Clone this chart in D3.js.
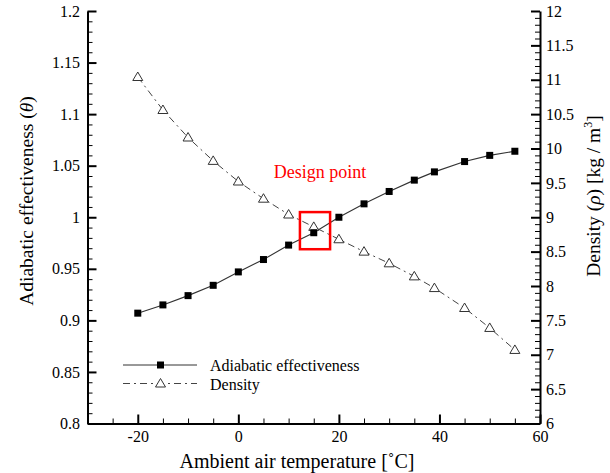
<!DOCTYPE html>
<html>
<head>
<meta charset="utf-8">
<script src="https://cdn.jsdelivr.net/npm/d3@7"></script>
<style>
  body { margin: 0; background: #fff; }
  svg { display: block; }
  svg text { font-family: "Liberation Serif", "Times New Roman", Times, Tinos, "DejaVu Serif", serif !important; fill: #000; }
</style>
</head>
<body>
<svg id="chart" width="610" height="473"></svg>
<script>
// Ambient temperature sweep [°C]
const temperature = [-20, -15, -10, -5, 0, 5, 10, 15, 20, 25, 30, 35, 39, 45, 50, 55];
// Adiabatic effectiveness (left axis)
const effectiveness = [0.907, 0.915, 0.924, 0.934, 0.947, 0.959, 0.973, 0.985, 1.000, 1.013, 1.025, 1.036, 1.044, 1.054, 1.060, 1.064];
// Density [kg/m3] (right axis)
const density = [11.04, 10.56, 10.16, 9.82, 9.52, 9.27, 9.04, 8.86, 8.68, 8.50, 8.33, 8.14, 7.97, 7.68, 7.39, 7.07];

const xMajor = [-20, 0, 20, 40, 60];
const xMinor = [-25, -15, -10, -5, 5, 10, 15, 25, 30, 35, 45, 50, 55];
const leftMajor = [0.8, 0.85, 0.9, 0.95, 1, 1.05, 1.1, 1.15, 1.2];
const leftLabels = ["0.8", "0.85", "0.9", "0.95", "1", "1.05", "1.1", "1.15", "1.2"];
const rightMajor = [6, 6.5, 7, 7.5, 8, 8.5, 9, 9.5, 10, 10.5, 11, 11.5, 12];
const rightLabels = ["6", "6.5", "7", "7.5", "8", "8.5", "9", "9.5", "10", "10.5", "11", "11.5", "12"];

// Design point marker: temperature range and effectiveness range of the highlight box
const designLabel = "Design point";
const designBoxT = [12.25, 18.25];
const designBoxE = [0.969, 1.005];

const svg = d3.select("#chart");
const plot = { left: 87.5, right: 540, top: 11, bottom: 423.5 };

const x = d3.scaleLinear().domain([-30, 60]).range([plot.left, plot.right]);
const yL = d3.scaleLinear().domain([0.8, 1.2]).range([plot.bottom, plot.top]);
const yR = d3.scaleLinear().domain([6, 12]).range([plot.bottom, plot.top]);

const minorOf = (lo, hi, step, majors) => d3.range(Math.round((hi - lo) / step) + 1)
  .map(i => +(lo + i * step).toFixed(4))
  .filter(v => !majors.some(m => Math.abs(m - v) < 1e-6));
const leftMinor = minorOf(0.8, 1.2, 0.01, leftMajor);
const rightMinor = minorOf(6, 12, 0.1, rightMajor);

function styleAxis(g, major) {
  g.attr("font-family", null);
  g.select(".domain").attr("stroke", "#000").attr("stroke-width", 2);
  g.selectAll(".tick line").attr("stroke", "#000").attr("stroke-width", major ? 2 : 1);
  g.selectAll(".tick text").attr("font-size", 16);
  if (!major) g.select(".domain").remove();
}

// Bottom axis (ticks point inward)
svg.append("g").attr("transform", `translate(0,${plot.bottom})`)
  .call(d3.axisBottom(x).tickValues(xMinor).tickSize(-5).tickFormat(""))
  .call(g => styleAxis(g, false));
svg.append("g").attr("transform", `translate(0,${plot.bottom})`)
  .call(d3.axisBottom(x).tickValues(xMajor).tickSize(-9).tickSizeOuter(0).tickPadding(7.5).tickFormat(d => String(d)))
  .call(g => styleAxis(g, true));

// Left axis
svg.append("g").attr("transform", `translate(${plot.left},0)`)
  .call(d3.axisLeft(yL).tickValues(leftMinor).tickSize(-5).tickFormat(""))
  .call(g => styleAxis(g, false));
svg.append("g").attr("transform", `translate(${plot.left},0)`)
  .call(d3.axisLeft(yL).tickValues(leftMajor).tickSize(-9).tickSizeOuter(0).tickPadding(7.5)
    .tickFormat((d, i) => leftLabels[i]))
  .call(g => styleAxis(g, true));

// Right axis
svg.append("g").attr("transform", `translate(${plot.right},0)`)
  .call(d3.axisRight(yR).tickValues(rightMinor).tickSize(-5).tickFormat(""))
  .call(g => styleAxis(g, false));
svg.append("g").attr("transform", `translate(${plot.right},0)`)
  .call(d3.axisRight(yR).tickValues(rightMajor).tickSize(-9).tickSizeOuter(0).tickPadding(6)
    .tickFormat((d, i) => rightLabels[i]))
  .call(g => styleAxis(g, true));

// Axis titles
svg.append("text")
  .attr("transform", "translate(33,201) rotate(-90)")
  .attr("text-anchor", "middle").attr("font-size", 19.5)
  .call(t => {
    t.append("tspan").text("Adiabatic effectiveness (");
    t.append("tspan").attr("font-style", "italic").text("θ");
    t.append("tspan").text(")");
  });

svg.append("text")
  .attr("transform", "translate(600,196) rotate(-90)")
  .attr("text-anchor", "middle").attr("font-size", 19.5)
  .call(t => {
    t.append("tspan").text("Density (");
    t.append("tspan").attr("font-style", "italic").text("ρ");
    t.append("tspan").text(") [kg / m");
    t.append("tspan").attr("font-size", 12).attr("dy", -8).text("3");
    t.append("tspan").attr("dy", 8).text("]");
  });

svg.append("text")
  .attr("x", 297).attr("y", 468)
  .attr("text-anchor", "middle").attr("font-size", 20)
  .text("Ambient air temperature [˚C]");

// Series lines
const rows = temperature.map((t, i) => ({ t, e: effectiveness[i], d: density[i] }));

svg.append("path").datum(rows)
  .attr("fill", "none").attr("stroke", "#333").attr("stroke-width", 1.1)
  .attr("d", d3.line().x(r => x(r.t)).y(r => yL(r.e)));

svg.append("path").datum(rows)
  .attr("fill", "none").attr("stroke", "#444").attr("stroke-width", 1)
  .attr("stroke-dasharray", "7,4,2,4")
  .attr("d", d3.line().x(r => x(r.t)).y(r => yR(r.d)));

// Markers
const triPath = "M0,-5L5,3.5L-5,3.5Z";
svg.append("g").selectAll("path").data(rows).join("path")
  .attr("transform", r => `translate(${x(r.t)},${yR(r.d)})`)
  .attr("d", triPath)
  .attr("fill", "#fff").attr("stroke", "#333").attr("stroke-width", 1);

svg.append("g").selectAll("rect").data(rows).join("rect")
  .attr("x", r => x(r.t) - 3.5).attr("y", r => yL(r.e) - 3.5)
  .attr("width", 7).attr("height", 7).attr("fill", "#000");

// Design point highlight
svg.append("rect")
  .attr("x", x(designBoxT[0])).attr("y", yL(designBoxE[1]))
  .attr("width", x(designBoxT[1]) - x(designBoxT[0]))
  .attr("height", yL(designBoxE[0]) - yL(designBoxE[1]))
  .attr("fill", "none").attr("stroke", "#f00").attr("stroke-width", 2.5);

svg.append("text")
  .attr("x", 320).attr("y", 178)
  .attr("text-anchor", "middle").attr("font-size", 18)
  .style("fill", "#f00")
  .text(designLabel);

// Legend
const legend = svg.append("g");
const legendItems = [
  { label: "Adiabatic effectiveness", y: 365, dash: null, marker: "square" },
  { label: "Density", y: 383.5, dash: "7,4,2,4", marker: "triangle" }
];
legendItems.forEach(item => {
  legend.append("line")
    .attr("x1", 123).attr("x2", 197).attr("y1", item.y).attr("y2", item.y)
    .attr("stroke", item.marker === "square" ? "#333" : "#444").attr("stroke-width", 1)
    .attr("stroke-dasharray", item.dash);
  if (item.marker === "square") {
    legend.append("rect").attr("x", 157).attr("y", item.y - 3.5)
      .attr("width", 7).attr("height", 7).attr("fill", "#000");
  } else {
    legend.append("path").attr("transform", `translate(160.5,${item.y})`)
      .attr("d", triPath).attr("fill", "#fff").attr("stroke", "#333").attr("stroke-width", 1);
  }
  legend.append("text").attr("x", 210).attr("y", item.y + 6)
    .attr("font-size", 16).text(item.label);
});
</script>
</body>
</html>
